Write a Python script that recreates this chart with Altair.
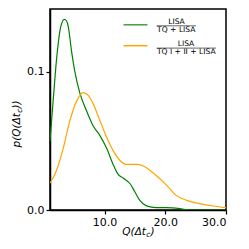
import altair as alt
import pandas as pd

# Green: LISA / (TQ + LISA)
green_x = [1.0, 1.5, 2.1, 2.65, 3.0, 3.36, 3.7, 4.0, 4.55, 5.1, 5.9, 7.0, 8.1, 9.2, 10.3, 11.4, 12.2, 13.1, 14.2, 15.0, 15.8, 16.9, 18.5, 20.2, 22.4, 24.0, 30.0]
green_y = [0.050, 0.078, 0.110, 0.130, 0.136, 0.138, 0.137, 0.133, 0.115, 0.100, 0.085, 0.072, 0.061, 0.054, 0.045, 0.033, 0.026, 0.023, 0.019, 0.013, 0.007, 0.003, 0.0017, 0.0017, 0.001, 0.0, 0.0]

# Orange: LISA / (TQ I + II + LISA)
orange_x = [1.0, 2.1, 3.2, 4.3, 5.4, 6.5, 7.3, 8.1, 9.2, 10.3, 11.4, 12.5, 13.6, 15.2, 16.3, 17.4, 18.5, 20.2, 21.8, 23.5, 25.7, 27.9, 30.0]
orange_y = [0.0195, 0.029, 0.045, 0.065, 0.079, 0.085, 0.083, 0.077, 0.065, 0.053, 0.043, 0.036, 0.033, 0.033, 0.032, 0.029, 0.025, 0.018, 0.0106, 0.007, 0.0046, 0.0029, 0.0017]

x_ticks = [10.0, 20.0, 30.0]
y_ticks = [0.0, 0.1]

df = pd.concat([
    pd.DataFrame({"x": green_x, "y": green_y, "s": "g"}),
    pd.DataFrame({"x": orange_x, "y": orange_y, "s": "o"}),
])

W, H = 176, 201

lines = alt.Chart(df).mark_line(interpolate="monotone", strokeWidth=1.2, clip=True).encode(
    x=alt.X("x:Q", scale=alt.Scale(domain=[1, 30], nice=False, zero=False),
            axis=alt.Axis(values=x_ticks, format=".1f", title=None, grid=False,
                          domainColor="black", domainWidth=1.5, tickColor="black",
                          tickWidth=1.2, tickSize=4, labelFontSize=11, labelColor="black",
                          labelFont="DejaVu Sans", labelPadding=2)),
    y=alt.Y("y:Q", scale=alt.Scale(domain=[0, 0.1455], nice=False),
            axis=alt.Axis(values=y_ticks, format=".1f", title=None, grid=False,
                          domainColor="black", domainWidth=1.5, tickColor="black",
                          tickWidth=1.2, tickSize=4, labelFontSize=11, labelColor="black",
                          labelFont="DejaVu Sans", labelPadding=2)),
    color=alt.Color("s:N", scale=alt.Scale(domain=["g", "o"], range=["green", "orange"]), legend=None),
    detail="s:N",
)

def txt(s, x, y, size, align="center", angle=0, italic=False):
    return alt.Chart(pd.DataFrame({"t": [s]})).mark_text(
        align=align, baseline="alphabetic", fontSize=size, font="DejaVu Sans",
        fontStyle="italic" if italic else "normal", angle=angle, color="black"
    ).encode(text="t:N", x=alt.value(x), y=alt.value(y))

def seg(x1, x2, y, color, w):
    return alt.Chart(pd.DataFrame({"a": [0]})).mark_rule(color=color, strokeWidth=w).encode(
        x=alt.value(x1), x2=alt.value(x2), y=alt.value(y))

legend = [
    seg(73.5, 97.5, 15.8, "#3ca33c", 1.5),
    txt("LISA", 126.5, 15.0, 7.6),
    seg(106.7, 146, 16.8, "black", 0.6),
    txt("TQ + LISA", 126.3, 22.6, 7.6),
    seg(73.5, 97.5, 36.7, "orange", 1.5),
    txt("LISA", 136, 36.8, 7.6),
    seg(106.7, 166, 39.1, "black", 0.6),
    txt("TQ I + II + LISA", 136.3, 44.8, 7.6),
]

# x title: Q(Δt_c)
xt = [
    txt("Q(Δt", 96, 226, 10.5, align="right", italic=True),
    txt("c", 96.2, 228, 7.5, align="left", italic=True),
    txt(")", 100.5, 226, 10.5, align="left", italic=True),
]
# y title: p(Q(Δt_c)) rotated
yt = [
    txt("p(Q(Δt", -30, 104, 10.5, align="right", angle=270, italic=True),
    txt("c", -28, 103.8, 7.5, align="left", angle=270, italic=True),
    txt("))", -30, 99.5, 10.5, align="left", angle=270, italic=True),
]

chart = alt.layer(lines, *legend, *xt, *yt).properties(
    width=W, height=H,
    padding={"left": 42, "top": 1, "right": 15, "bottom": 30},
    autosize=alt.AutoSizeParams(type="none"),
).configure_view(stroke="black", strokeWidth=1.5)

chart.save("out.html", embed_options={"renderer": "svg", "actions": False})
